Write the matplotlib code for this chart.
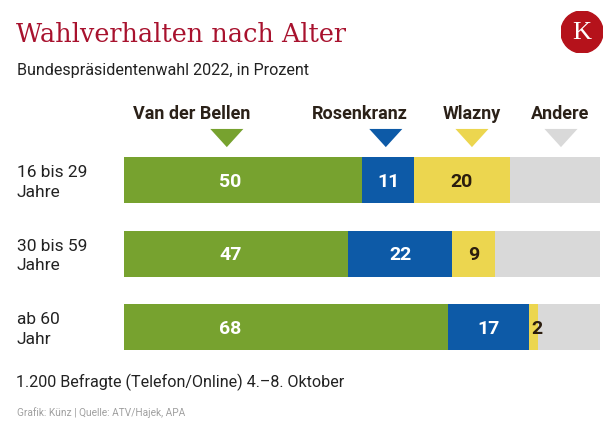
import numpy as np
import matplotlib.pyplot as plt
from matplotlib.patches import Circle

# data
groups = ['16 bis 29\nJahre', '30 bis 59\nJahre', 'ab 60\nJahr']
parties = ['Van der Bellen', 'Rosenkranz', 'Wlazny', 'Andere']
vdb = [50, 47, 68]
rosenkranz = [11, 22, 17]
wlazny = [20, 9, 2]
andere = [19, 22, 13]

colors = ['#77a22f', '#0d5aa7', '#ecd64f', '#d9d9d9']
txt_colors = ['white', 'white', '#2b1d0e', None]

# layout (pixels of the 616x432 canvas)
W, H = 616, 432
tri_x = [21.6, 55.0, 73.1, 91.8]      # triangle positions in %
head_x = [14.3, 49.6, 73.1, 91.6]     # header label centres in %
vdb_lab_x = 22.3                      # VdB numbers sit under the triangle

SANS = ['Roboto', 'DejaVu Sans']
COND = ['Liberation Sans Narrow', 'Roboto', 'DejaVu Sans']
SERIF = ['DejaVu Serif', 'Liberation Serif']

fig = plt.figure(figsize=(W / 100, H / 100), dpi=100)
fig.patch.set_facecolor('white')

ax = fig.add_axes([124 / W, (H - 400.7) / H, 476 / W, 293.9 / H])
ax.set_xlim(0, 100)
ax.set_ylim(3, -1)
ax.axis('off')

y = np.arange(len(groups))
series = [vdb, rosenkranz, wlazny, andere]
left = np.zeros(len(groups))
for k, vals in enumerate(series):
    vals = np.array(vals, dtype=float)
    ax.barh(y, vals, left=left, height=0.626, color=colors[k], linewidth=0)
    if txt_colors[k] is not None:
        for i, v in enumerate(vals):
            if k == 0:
                ax.text(vdb_lab_x, y[i] + 0.02, '%d' % v, ha='center', va='center',
                        color=txt_colors[k], fontsize=14, fontweight='bold', family=COND)
            elif v >= 5:
                ax.text(left[i] + v / 2, y[i] + 0.02, '%d' % v, ha='center', va='center',
                        color=txt_colors[k], fontsize=14, fontweight='bold', family=COND)
            else:
                ax.text(left[i] + 0.6, y[i] + 0.02, '%d' % v, ha='left', va='center',
                        color=txt_colors[k], fontsize=14, fontweight='bold', family=COND)
    left += vals

# header labels + triangles
tri = [(-1, 0.55), (1, 0.55), (0, -0.55), (-1, 0.55)]
ax.scatter(tri_x, [-0.575] * 4, marker=tri, s=566, c=colors, linewidths=0, clip_on=False)
for k, p in enumerate(parties):
    ax.text(head_x[k], -0.90, p, ha='center', va='center', fontsize=13, fontweight='bold',
            color='#2b2118', family=COND, clip_on=False)

# group labels
for i, g in enumerate(groups):
    ax.text(-22.5, y[i] + 0.03, g, ha='left', va='center', fontsize=12.5, color='#222222',
            family=SANS, linespacing=1.38, clip_on=False)

# titles / footer
fig.text(16 / W, 1 - 34 / H, 'Wahlverhalten nach Alter', ha='left', va='center',
         fontsize=18.4, color='#a8122e', family=SERIF)
fig.text(17 / W, 1 - 70.5 / H, 'Bundespräsidentenwahl 2022, in Prozent', ha='left', va='center',
         fontsize=11.6, color='#222222', family=SANS)
fig.text(16 / W, 1 - 382.5 / H, '1.200 Befragte (Telefon/Online) 4.–8. Oktober', ha='left',
         va='center', fontsize=11.6, color='#222222', family=SANS)
fig.text(17 / W, 1 - 413 / H, 'Grafik: Künz | Quelle: ATV/Hajek, APA', ha='left', va='center',
         fontsize=7.3, color='#a0a0a0', family=COND)

# logo
lax = fig.add_axes([561 / W, (H - 53) / H, 42 / W, 42 / H])
lax.set_xlim(0, 1)
lax.set_ylim(0, 1)
lax.set_aspect('equal')
lax.axis('off')
lax.add_patch(Circle((0.5, 0.5), 0.5, color='#b5121b'))
lax.text(0.5, 0.48, 'K', ha='center', va='center', color='white', fontsize=19,
         family=['Liberation Serif', 'DejaVu Serif'])

fig.savefig('out.png', dpi=100)
